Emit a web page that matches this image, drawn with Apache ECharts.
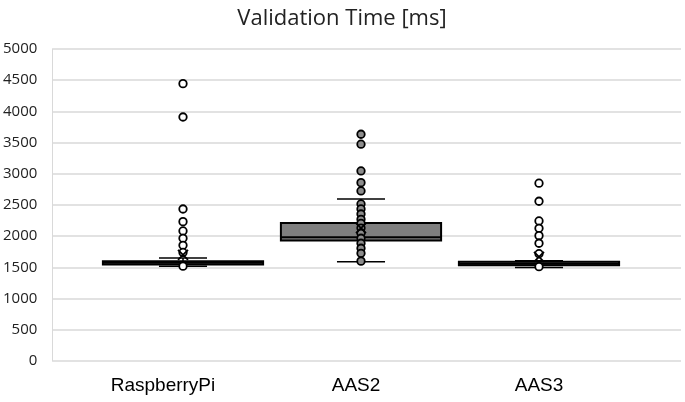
<!DOCTYPE html>
<html>
<head>
<meta charset="utf-8">
<script src="https://cdn.jsdelivr.net/npm/echarts@6/dist/echarts.min.js"></script>
<style>html,body{margin:0;padding:0;background:#fff}#c{width:685px;height:402px}</style>
</head>
<body>
<div id="c"></div>
<script>
const categories = ['RaspberryPi', 'AAS2', 'AAS3'];
const whiskerLow = [1520, 1592, 1500];
const q1 = [1545, 1930, 1535];
const median = [1575, 1985, 1560];
const q3 = [1600, 2210, 1590];
const whiskerHigh = [1650, 2595, 1605];
const mean = [1700, 2130, 1670];
const rpiPoints = [4445, 3910, 2436, 2233, 2084, 1966, 1854, 1740, 1520];
const aas2Points = [3634, 3474, 3046, 2858, 2725, 2517, 2437, 2356, 2271, 2207, 2130, 2047, 1967, 1887, 1807, 1726, 1600];
const aas3Points = [2849, 2560, 2244, 2127, 2009, 1887, 1720, 1512];
const yMin = 0, yMax = 5000, yStep = 500;

const boxFills = ['#7f7f7f', '#7f7f7f', '#7f7f7f'];
const pointFills = ['#ffffff', '#8c8c8c', '#ffffff'];

const chart = echarts.init(document.getElementById('c'));
const boxData = categories.map((c, i) => [i, whiskerLow[i], q1[i], median[i], q3[i], whiskerHigh[i]]);
const meanData = categories.map((c, i) => [i, mean[i]]);

function boxRender(params, api) {
  const i = api.value(0);
  const x = api.coord([i, 0])[0];
  const band = api.size([1, 0])[0];
  const bw = band * 0.9, cw = band * 0.27;
  const yLo = api.coord([i, api.value(1)])[1];
  const yQ1 = api.coord([i, api.value(2)])[1];
  const yMed = api.coord([i, api.value(3)])[1];
  const yQ3 = api.coord([i, api.value(4)])[1];
  const yHi = api.coord([i, api.value(5)])[1];
  const ls = {stroke: '#000', lineWidth: 1.5};
  return {
    type: 'group',
    children: [
      {type: 'line', shape: {x1: x, y1: yLo, x2: x, y2: yQ1}, style: ls},
      {type: 'line', shape: {x1: x, y1: yQ3, x2: x, y2: yHi}, style: ls},
      {type: 'line', shape: {x1: x - cw / 2, y1: yLo, x2: x + cw / 2, y2: yLo}, style: ls},
      {type: 'line', shape: {x1: x - cw / 2, y1: yHi, x2: x + cw / 2, y2: yHi}, style: ls},
      {type: 'rect', shape: {x: x - bw / 2, y: yQ3, width: bw, height: yQ1 - yQ3},
        style: {fill: boxFills[i], stroke: '#000', lineWidth: 2}},
      {type: 'line', shape: {x1: x - bw / 2, y1: yMed, x2: x + bw / 2, y2: yMed}, style: {stroke: '#000', lineWidth: 2}}
    ]
  };
}

function meanRender(params, api) {
  const p = api.coord([api.value(0), api.value(1)]);
  const s = 5;
  const ls = {stroke: '#000', lineWidth: 1.8};
  return {
    type: 'group',
    children: [
      {type: 'line', shape: {x1: p[0] - s, y1: p[1] - s, x2: p[0] + s, y2: p[1] + s}, style: ls},
      {type: 'line', shape: {x1: p[0] - s, y1: p[1] + s, x2: p[0] + s, y2: p[1] - s}, style: ls}
    ]
  };
}

const pointSets = [rpiPoints, aas2Points, aas3Points];

chart.setOption({
  animation: false,
  title: {
    text: 'Validation Time [ms]',
    left: 337, top: 3, textAlign: 'center',
    textStyle: {fontFamily: 'Open Sans', fontSize: 22, fontWeight: 'normal', color: '#222'}
  },
  grid: [
    {left: 51, right: 4, top: 49, bottom: 41},
    {left: 94, right: 57, top: 49, bottom: 41}
  ],
  xAxis: [
    {gridIndex: 0, type: 'value', min: 0, max: 1, show: false},
    {gridIndex: 1, type: 'category', data: [
        {value: categories[0], textStyle: {padding: [0, 40, 0, 0]}},
        {value: categories[1], textStyle: {padding: [0, 10, 0, 0]}},
        {value: categories[2]}
      ],
      axisLine: {show: false}, axisTick: {show: false},
      axisLabel: {fontFamily: 'Liberation Sans', fontSize: 19, color: '#000', margin: 15}}
  ],
  yAxis: [
    {gridIndex: 0, type: 'value', min: yMin, max: yMax, interval: yStep,
      axisLine: {show: true, lineStyle: {color: '#d9d9d9'}}, axisTick: {show: false},
      splitLine: {lineStyle: {color: '#d9d9d9', width: 1.5}},
      axisLabel: {fontFamily: 'Open Sans', fontSize: 15, color: '#222', margin: 15,
        formatter: v => String(v)}},
    {gridIndex: 1, type: 'value', min: yMin, max: yMax, show: false}
  ],
  series: [
    {type: 'custom', xAxisIndex: 1, yAxisIndex: 1, renderItem: boxRender, data: boxData,
      encode: {x: 0, y: [1, 2, 3, 4, 5]}, z: 2},
    ...pointSets.map((pts, i) => ({
      type: 'scatter', xAxisIndex: 1, yAxisIndex: 1, symbol: 'circle', symbolSize: 7.5,
      itemStyle: {color: pointFills[i], borderColor: '#000', borderWidth: 1.8, opacity: 1},
      data: pts.map(v => [i, v]), z: 3
    })),
    {type: 'custom', xAxisIndex: 1, yAxisIndex: 1, renderItem: meanRender, data: meanData,
      encode: {x: 0, y: 1}, z: 4}
  ]
});
</script>
</body>
</html>
